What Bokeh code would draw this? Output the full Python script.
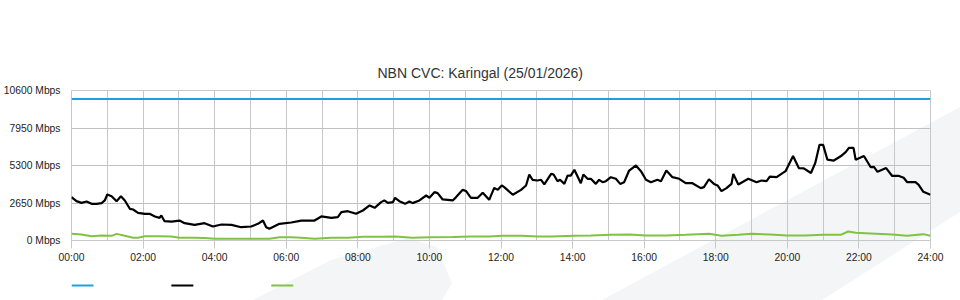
from bokeh.plotting import figure
from bokeh.layouts import column
from bokeh.models import Range1d, FixedTicker
from bokeh.embed import file_html
from bokeh.resources import INLINE

TITLE = "NBN CVC: Karingal (25/01/2026)"

x_ticks = [0, 2, 4, 6, 8, 10, 12, 14, 16, 18, 20, 22, 24]
x_tick_labels = ["00:00", "02:00", "04:00", "06:00", "08:00", "10:00", "12:00",
                 "14:00", "16:00", "18:00", "20:00", "22:00", "24:00"]
x_minor = [1, 3, 5, 7, 9, 11, 13, 15, 17, 19, 21, 23]
y_ticks = [0, 2650, 5300, 7950, 10600]
y_tick_labels = ["0 Mbps", "2650 Mbps", "5300 Mbps", "7950 Mbps", "10600 Mbps"]

capacity_hours = [0, 24]
capacity_mbps = [10000, 10000]

download_hours = [
    0.00, 0.14, 0.28, 0.42, 0.56, 0.70, 0.84, 0.93, 1.00, 1.12, 1.26, 1.38, 1.49,
    1.63, 1.72, 1.86, 2.05, 2.18, 2.33, 2.46, 2.51, 2.60, 2.79, 3.02, 3.16, 3.44,
    3.72, 3.95, 4.19, 4.47, 4.74, 5.02, 5.21, 5.35, 5.44, 5.53, 5.81, 6.14, 6.42,
    6.79, 6.98, 7.26, 7.44, 7.54, 7.72, 7.95, 8.14, 8.33, 8.47, 8.65, 8.74, 8.84,
    8.98, 9.04, 9.16, 9.32, 9.44, 9.53, 9.72, 9.91, 10.00, 10.14, 10.23, 10.37,
    10.65, 10.74, 10.93, 11.02, 11.16, 11.35, 11.49, 11.67, 11.81, 11.91, 12.02,
    12.09, 12.33, 12.56, 12.70, 12.79, 12.88, 13.02, 13.12, 13.21, 13.40, 13.47,
    13.58, 13.65, 13.77, 13.86, 13.95, 14.05, 14.23, 14.30, 14.42, 14.51, 14.65,
    14.74, 14.84, 14.93, 15.07, 15.21, 15.33, 15.44, 15.58, 15.77, 15.91, 16.05,
    16.19, 16.37, 16.47, 16.62, 16.79, 16.98, 17.16, 17.35, 17.58, 17.67, 17.81,
    17.95, 18.05, 18.16, 18.30, 18.44, 18.49, 18.63, 18.91, 19.14, 19.28, 19.42,
    19.51, 19.70, 19.95, 20.16, 20.32, 20.46, 20.66, 20.78, 20.90, 21.00, 21.12,
    21.30, 21.49, 21.63, 21.72, 21.85, 21.91, 22.14, 22.33, 22.42, 22.52, 22.76,
    22.93, 23.12, 23.25, 23.35, 23.58, 23.67, 23.80, 24.00]
download_mbps = [
    3060, 2780, 2660, 2755, 2590, 2590, 2640, 2830, 3250, 3130, 2780, 3130, 2830,
    2240, 2190, 1955, 1885, 1885, 1700, 1600, 1770, 1365, 1340, 1410, 1225, 1105,
    1225, 990, 1130, 1105, 940, 990, 1180, 1410, 940, 825, 1180, 1270, 1410,
    1410, 1700, 1600, 1650, 2000, 2070, 1885, 2120, 2475, 2310, 2710, 2830, 2660,
    2710, 3015, 2780, 2590, 2755, 2640, 2830, 3180, 3015, 3415, 3350, 2900,
    2830, 3050, 3580, 3500, 3015, 3015, 3370, 2875, 3720, 3580, 3890,
    3770, 3230, 3580, 3890, 4660, 4290, 4240, 4290, 3960, 4710, 4660,
    4190, 4290, 4000, 4590, 4590, 4995, 4050, 4660, 4360, 4360, 4000,
    4290, 4120, 4190, 4475, 4360, 4000, 4120, 4945, 5300, 4900, 4290,
    4120, 4290, 4190, 4945, 4475, 4360, 4050, 4050, 3700, 3770, 4330,
    4000, 3890, 3485, 3700, 4000, 4710, 3960, 4360, 4120, 4240, 4200,
    4520, 4480, 4900, 5970, 5120, 5100, 4770, 5480, 6760, 6760, 5710,
    5650, 5950, 6240, 6540, 6540, 5700, 5970, 5180, 5200, 4850, 5120,
    4560, 4560, 4430, 4120, 4120, 3935, 3440, 3230]

upload_hours = [
    0.00, 0.28, 0.56, 0.84, 1.12, 1.26, 1.49, 1.72, 1.86, 2.05, 2.46, 2.79, 3.02,
    3.44, 3.72, 4.00, 4.47, 5.02, 5.53, 5.81, 6.14, 6.42, 6.79, 7.26, 7.72, 8.14,
    8.65, 9.04, 9.53, 10.00, 10.65, 11.16, 11.67, 12.05, 12.56, 13.02, 13.40,
    14.05, 14.51, 15.07, 15.58, 16.05, 16.62, 17.16, 17.81, 18.16, 18.63, 19.00,
    19.51, 20.00, 20.50, 21.00, 21.49, 21.70, 21.91, 22.33, 22.93, 23.35, 23.80,
    24.00]
upload_mbps = [
    470, 430, 305, 350, 330, 470, 330, 190, 200, 300, 300, 280, 190,
    190, 170, 120, 115, 115, 120, 235, 235, 190, 120, 190, 200, 260,
    270, 280, 200, 230, 250, 280, 290, 330, 340, 280, 280,
    330, 350, 400, 430, 350, 350, 400, 470, 330, 400, 470,
    420, 350, 360, 400, 400, 635, 540, 500, 420, 330, 450,
    330]

GRID = "#c8c8c8"
TEXT = "#222222"
FONT = "Liberation Sans"
CAP_COLOR = "#1ca1e0"
DL_COLOR = "#000000"
UL_COLOR = "#80c342"
SERIES_COLORS = [CAP_COLOR, DL_COLOR, UL_COLOR]

p = figure(width=960, height=270, output_backend="svg", toolbar_location=None,
           x_range=Range1d(0, 24), y_range=Range1d(0, 10600),
           min_border_left=70, min_border_right=30, min_border_top=90,
           min_border_bottom=30, title=TITLE)

p.background_fill_alpha = 0
p.border_fill_alpha = 0
p.outline_line_color = GRID

p.title.align = "left"
p.title.offset = 306
p.title.standoff = 20
p.title.text_font = FONT
p.title.text_font_size = "14px"
p.title.text_font_style = "normal"
p.title.text_color = "#333333"

xt = FixedTicker(ticks=x_ticks, minor_ticks=x_minor)
p.xaxis.ticker = xt
p.xgrid.ticker = xt
p.xaxis.major_label_overrides = dict(zip(x_ticks, x_tick_labels))
p.xaxis.major_tick_out = 8
p.xaxis.major_tick_in = 0
p.xaxis.major_tick_line_color = GRID
p.xaxis.minor_tick_line_color = None
p.xaxis.axis_line_color = GRID
p.xaxis.major_label_standoff = 3
p.xaxis.major_label_text_font = FONT
p.xaxis.major_label_text_font_size = "10.3px"
p.xaxis.major_label_text_color = TEXT
p.xgrid.grid_line_color = GRID
p.xgrid.minor_grid_line_color = GRID

yt = FixedTicker(ticks=y_ticks)
p.yaxis.ticker = yt
p.ygrid.ticker = yt
p.yaxis.major_label_overrides = dict(zip(y_ticks, y_tick_labels))
p.yaxis.major_tick_out = 0
p.yaxis.major_tick_in = 0
p.yaxis.minor_tick_line_color = None
p.yaxis.axis_line_color = None
p.yaxis.major_label_standoff = 11
p.yaxis.major_label_text_font = FONT
p.yaxis.major_label_text_font_size = "10.3px"
p.yaxis.major_label_text_color = TEXT
p.ygrid.grid_line_color = "#c0c0c0"

p.line(capacity_hours, capacity_mbps, line_color=CAP_COLOR, line_width=2)
p.line(download_hours, download_mbps, line_color=DL_COLOR, line_width=2.2)
p.line(upload_hours, upload_mbps, line_color=UL_COLOR, line_width=2)

# legend strip below the chart: colour swatches only (no labels, as in the reference)
# q's frame is aligned with p's frame (x 70..930), so its ranges are in page pixels
q = figure(width=960, height=30, output_backend="svg", toolbar_location=None,
           x_range=Range1d(70, 930), y_range=Range1d(0, 30),
           x_axis_location=None, y_axis_location=None,
           min_border_left=0, min_border_right=0, min_border_top=0, min_border_bottom=0)
q.grid.visible = False
q.outline_line_color = None
q.background_fill_alpha = 0
q.border_fill_alpha = 0
swatch_left = [70 + 100 * i for i in range(len(SERIES_COLORS))]
q.segment(x0=swatch_left, x1=[s + 22 for s in swatch_left],
          y0=[15] * len(SERIES_COLORS), y1=[15] * len(SERIES_COLORS),
          line_color=SERIES_COLORS, line_width=2.2)

svg_bg = ("data:image/svg+xml;utf8,<svg xmlns='http://www.w3.org/2000/svg' width='960' height='300'>"
          "<polygon points='602,300 960,107 960,212 822,300' fill='%23f4f5f7'/>"
          "<polygon points='253,300 331,260 408,238 437,247 452,283 442,300' fill='%23f4f5f7'/>"
          "</svg>")
layout = column(p, q, spacing=0)
layout.styles = {"background-image": f'url("{svg_bg}")', "background-repeat": "no-repeat",
                 "background-color": "white"}

open("out.html", "w").write(file_html(layout, INLINE))
